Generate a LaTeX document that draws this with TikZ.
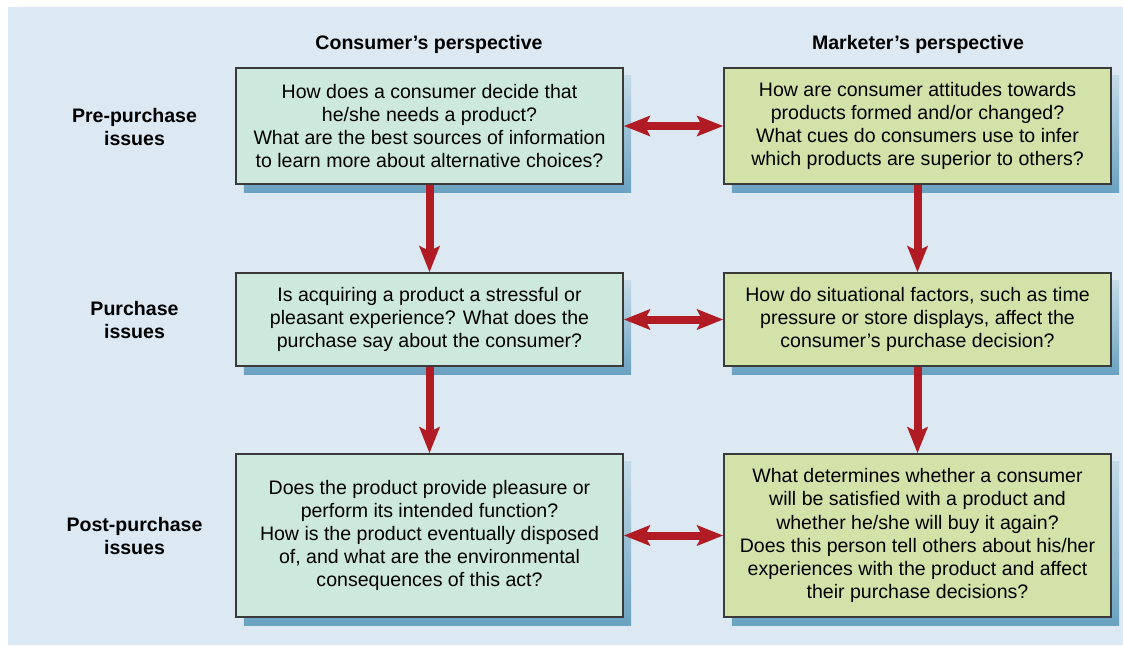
\documentclass[tikz,border=0pt]{standalone}
\usepackage{fontspec}
\setmainfont{Liberation Sans}
\usetikzlibrary{arrows.meta,shadows}

\definecolor{panelbg}{HTML}{DCE9F3}
\definecolor{consfill}{HTML}{CDE8DC}
\definecolor{markfill}{HTML}{D3E2A9}
\definecolor{shadetop}{HTML}{C4DAE8}
\definecolor{shadebot}{HTML}{6AA2C1}
\definecolor{arrowred}{HTML}{B11C24}
\definecolor{edgegray}{HTML}{3A3A3A}

\tikzset{
  issue/.style={draw=edgegray, line width=1pt, align=center, minimum width=9.675cm,
    general shadow={shadow xshift=0.2cm, shadow yshift=-0.2cm, draw=none,
      top color=shadetop, bottom color=shadebot}},
  consbox/.style={issue, fill=consfill},
  markbox/.style={issue, fill=markfill},
  heading/.style={font=\fontsize{13.9}{16.4}\selectfont\bfseries},
  flow/.style={draw=arrowred, line width=0.2cm,
    >={Stealth[length=0.65cm,width=0.5cm,inset=0.12cm]}, ->},
  twoway/.style={flow, <->},
}

\begin{document}
\begin{tikzpicture}[x=0.025cm, y=-0.025cm, font=\fontsize{13.9}{16.4}\selectfont]
    \useasboundingbox (0,0) rectangle (1123,645);
    \fill[panelbg] (8,7) rectangle (1123,645);

    \node[heading] (hcons) at (429,44) {Consumer's perspective};
    \node[heading] (hmark) at (918,44) {Marketer's perspective};

    \node[heading, align=center] (lpre) at (134.5,127) {Pre-purchase\\issues};
    \node[heading, align=center] (lbuy) at (134.5,320) {Purchase\\issues};
    \node[heading, align=center] (lpost) at (134.5,536) {Post-purchase\\issues};

    \node[consbox, minimum height=2.9cm] (cpre) at (429.5,126) {How does a consumer decide that\\he/she needs a product?\\What are the best sources of information\\to learn more about alternative choices?};
    \node[markbox, minimum height=2.9cm] (mpre) at (917.5,126) {How are consumer attitudes towards\\products formed and/or changed?\\What cues do consumers use to infer\\which products are superior to others?};
    \node[consbox, minimum height=2.325cm] (cbuy) at (429.5,319.5) {Is acquiring a product a stressful or\\pleasant experience? What does the\\purchase say about the consumer?};
    \node[markbox, minimum height=2.325cm] (mbuy) at (917.5,319.5) {How do situational factors, such as time\\pressure or store displays, affect the\\consumer's purchase decision?};
    \node[consbox, minimum height=4.075cm] (cpost) at (429.5,535.5) {Does the product provide pleasure or\\perform its intended function?\\How is the product eventually disposed\\of, and what are the environmental\\consequences of this act?};
    \node[markbox, minimum height=4.075cm] (mpost) at (917.5,535.5) {What determines whether a consumer\\will be satisfied with a product and\\whether he/she will buy it again?\\Does this person tell others about his/her\\experiences with the product and affect\\their purchase decisions?};

    \draw[flow] (cpre)--(cbuy);
    \draw[flow] (cbuy)--(cpost);
    \draw[flow] (mpre)--(mbuy);
    \draw[flow] (mbuy)--(mpost);
    \draw[twoway] (cpre)--(mpre);
    \draw[twoway] (cbuy)--(mbuy);
    \draw[twoway] (cpost)--(mpost);
\end{tikzpicture}
\end{document}
